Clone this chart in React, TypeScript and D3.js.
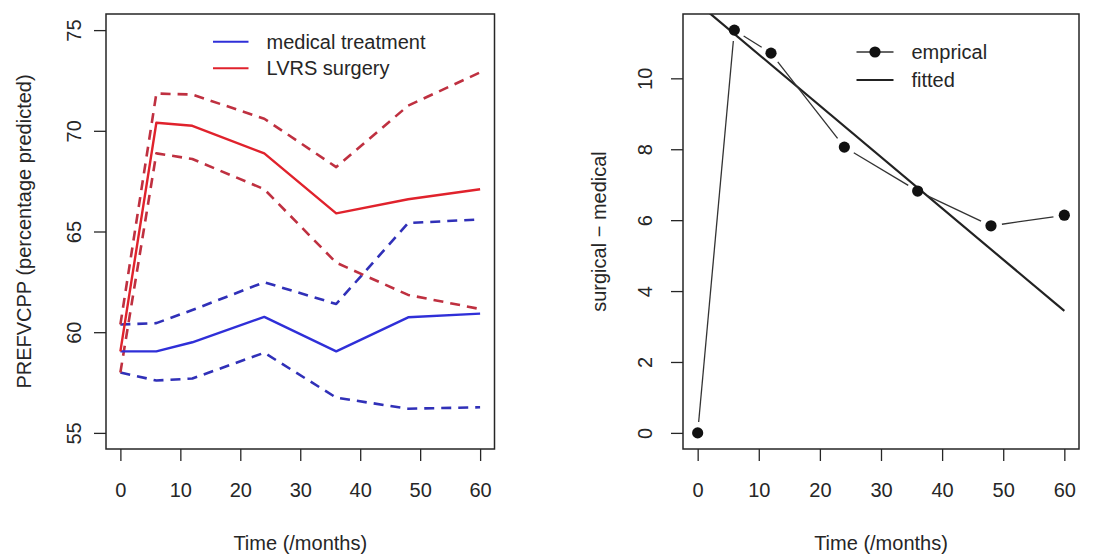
import React, { useRef, useEffect } from 'react'
import * as d3 from 'd3'

// follow-up times (months)
const months = [0, 6, 12, 24, 36, 48, 60]

// left panel: PREFVCPP mean and CI, per group
const medMean = [59.05, 59.05, 59.5, 60.76, 59.05, 60.74, 60.92]
const medLower = [58.0, 57.6, 57.7, 58.98, 56.75, 56.2, 56.27]
const medUpper = [60.38, 60.45, 61.1, 62.48, 61.4, 65.42, 65.6]

const surgMean = [59.05, 70.4, 70.25, 68.88, 65.9, 66.6, 67.1]
const surgLower = [58.0, 68.88, 68.6, 67.1, 63.45, 61.85, 61.15]
const surgUpper = [60.38, 71.85, 71.8, 70.6, 68.2, 71.25, 72.9]

const leftTicksY = [55, 60, 65, 70, 75]
const timeTicks = [0, 10, 20, 30, 40, 50, 60]

// right panel: surgical - medical difference
const diffEmpirical = [0, 11.36, 10.71, 8.06, 6.82, 5.84, 6.14]
const fittedMonths = [0, 60]
const fittedValues = [12.12, 3.44]
const rightTicksY = [0, 2, 4, 6, 8, 10]

const FONT = '"Liberation Sans", Arial, Helvetica, sans-serif'
const FS = 20
const INK = '#262626'

const BLUE = '#2f2fd8'
const BLUE_D = '#3030b8'
const RED = '#e0222c'
const RED_D = '#bf3040'

const padDomain = (lo: number, hi: number) => {
  const r = hi - lo
  return [lo - 0.04 * r, hi + 0.04 * r]
}

export default function App() {
  const svgEl = useRef<SVGSVGElement>(null)

  useEffect(() => {
    if (!svgEl.current) return
    const svg = d3.select(svgEl.current)
    svg.selectAll('*').remove()

    const top = 14
    const bottom = 449

    const drawFrame = (
      x: d3.ScaleLinear<number, number>,
      y: d3.ScaleLinear<number, number>,
      yTicks: number[],
      yLabelX: number,
      yTitle: string,
      yTitleX: number
    ) => {
      const [x0, x1] = x.range()
      // bottom axis
      const gx = svg.append('g')
        .attr('transform', `translate(0,${bottom})`)
        .call(d3.axisBottom(x).tickValues(timeTicks).tickSize(12).tickFormat(d3.format('d')))
      gx.select('.domain').remove()
      gx.selectAll('line').attr('stroke', INK).attr('stroke-width', 1.3)
      gx.selectAll('text')
        .attr('y', 41).attr('dy', '0.35em')
        .attr('font-family', FONT).attr('font-size', FS).attr('fill', INK)

      // left axis with rotated labels
      const gy = svg.append('g')
        .attr('transform', `translate(${x0},0)`)
        .call(d3.axisLeft(y).tickValues(yTicks).tickSize(12).tickFormat(d3.format('d')))
      gy.select('.domain').remove()
      gy.selectAll('line').attr('stroke', INK).attr('stroke-width', 1.3)
      gy.selectAll('text')
        .attr('x', null).attr('dy', '0.35em')
        .attr('transform', `translate(${yLabelX - x0},0) rotate(-90)`)
        .attr('text-anchor', 'middle')
        .attr('font-family', FONT).attr('font-size', FS).attr('fill', INK)

      // box
      svg.append('rect')
        .attr('x', x0).attr('y', top)
        .attr('width', x1 - x0).attr('height', bottom - top)
        .attr('fill', 'none').attr('stroke', INK).attr('stroke-width', 1.5)

      svg.append('text')
        .attr('x', (x0 + x1) / 2).attr('y', 543).attr('dy', '0.35em')
        .attr('text-anchor', 'middle')
        .attr('font-family', FONT).attr('font-size', FS).attr('fill', INK)
        .text('Time (/months)')

      svg.append('text')
        .attr('transform', `translate(${yTitleX},${(top + bottom) / 2}) rotate(-90)`)
        .attr('dy', '0.35em')
        .attr('text-anchor', 'middle')
        .attr('font-family', FONT).attr('font-size', FS).attr('fill', INK)
        .text(yTitle)
    }

    // ---------- left panel ----------
    const xL = d3.scaleLinear().domain(padDomain(0, 60)).range([106, 494.5])
    const yL = d3.scaleLinear().domain(padDomain(55, 75)).range([bottom, top])

    const lineL = d3.line<number>()
      .x((_, i) => xL(months[i]))
      .y(d => yL(d))

    const seriesL = [
      { v: medLower, c: BLUE_D, dash: true },
      { v: medUpper, c: BLUE_D, dash: true },
      { v: surgLower, c: RED_D, dash: true },
      { v: surgUpper, c: RED_D, dash: true },
      { v: medMean, c: BLUE, dash: false },
      { v: surgMean, c: RED, dash: false },
    ]
    seriesL.forEach(s => {
      svg.append('path')
        .attr('d', lineL(s.v))
        .attr('fill', 'none')
        .attr('stroke', s.c)
        .attr('stroke-width', s.dash ? 2.6 : 2.4)
        .attr('stroke-dasharray', s.dash ? '10,7' : null)
        .attr('stroke-linejoin', 'round')
    })

    drawFrame(xL, yL, leftTicksY, 73.5, 'PREFVCPP (percentage predicted)', 24)

    // legend (left)
    const legL = [
      { label: 'medical treatment', c: BLUE, y: 41.7 },
      { label: 'LVRS surgery', c: RED, y: 68.3 },
    ]
    legL.forEach(l => {
      svg.append('line')
        .attr('x1', 213).attr('x2', 248.5).attr('y1', l.y).attr('y2', l.y)
        .attr('stroke', l.c).attr('stroke-width', 2)
      svg.append('text')
        .attr('x', 266.5).attr('y', l.y).attr('dy', '0.35em')
        .attr('font-family', FONT).attr('font-size', FS).attr('fill', INK)
        .text(l.label)
    })

    // ---------- right panel ----------
    const xR = d3.scaleLinear().domain(padDomain(0, 60)).range([683, 1079])
    const [lo, hi] = d3.extent(diffEmpirical) as [number, number]
    const yR = d3.scaleLinear().domain(padDomain(lo, hi)).range([bottom, top])

    svg.append('clipPath').attr('id', 'clipR')
      .append('rect')
      .attr('x', 683).attr('y', top).attr('width', 1079 - 683).attr('height', bottom - top)

    // fitted line
    const fitLine = d3.line<number>()
      .x((_, i) => xR(fittedMonths[i]))
      .y(d => yR(d))
    svg.append('path')
      .attr('d', fitLine(fittedValues))
      .attr('clip-path', 'url(#clipR)')
      .attr('fill', 'none').attr('stroke', '#222').attr('stroke-width', 2.2)

    // empirical: points joined by segments with gaps (type = "b")
    const pts = months.map((m, i) => [xR(m), yR(diffEmpirical[i])] as [number, number])
    const gap = 11
    d3.pairs(pts).forEach(([a, b]) => {
      const dx = b[0] - a[0]
      const dy = b[1] - a[1]
      const len = Math.hypot(dx, dy)
      if (len <= 2 * gap) return
      const ux = dx / len
      const uy = dy / len
      svg.append('line')
        .attr('x1', a[0] + ux * gap).attr('y1', a[1] + uy * gap)
        .attr('x2', b[0] - ux * gap).attr('y2', b[1] - uy * gap)
        .attr('stroke', '#333').attr('stroke-width', 1.3)
    })
    svg.selectAll('circle.emp')
      .data(pts)
      .enter()
      .append('circle')
      .attr('class', 'emp')
      .attr('cx', d => d[0]).attr('cy', d => d[1])
      .attr('r', 5.6).attr('fill', '#111')

    drawFrame(xR, yR, rightTicksY, 645, 'surgical \u2212 medical', 599)

    // legend (right)
    svg.append('line')
      .attr('x1', 856.5).attr('x2', 893.5).attr('y1', 52).attr('y2', 52)
      .attr('stroke', '#333').attr('stroke-width', 1.3)
    svg.append('circle').attr('cx', 875).attr('cy', 52).attr('r', 5.6).attr('fill', '#111')
    svg.append('line')
      .attr('x1', 856.5).attr('x2', 893.5).attr('y1', 80).attr('y2', 80)
      .attr('stroke', '#222').attr('stroke-width', 2.2)
    const legR = [
      { label: 'emprical', y: 52 },
      { label: 'fitted', y: 80 },
    ]
    legR.forEach(l => {
      svg.append('text')
        .attr('x', 911.5).attr('y', l.y).attr('dy', '0.35em')
        .attr('font-family', FONT).attr('font-size', FS).attr('fill', INK)
        .text(l.label)
    })
  }, [])

  return (
    <svg
      ref={svgEl}
      width={1110}
      height={560}
      style={{ position: 'absolute', left: 0, top: 0, background: '#fff' }}
    />
  )
}
